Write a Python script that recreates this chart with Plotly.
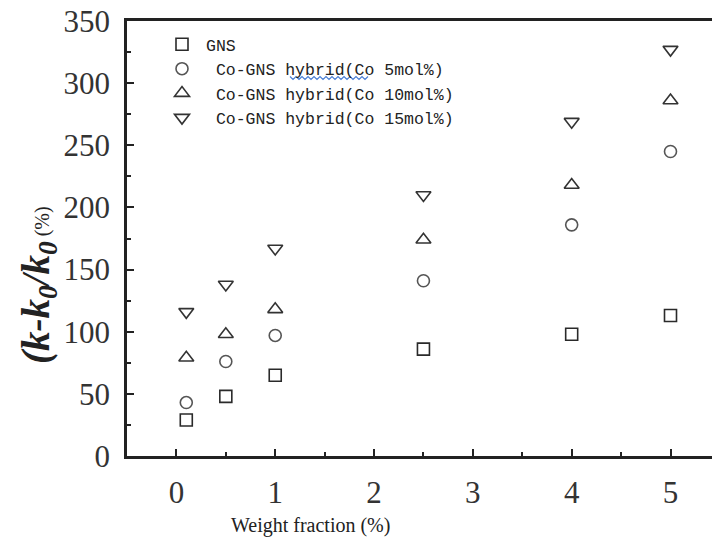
import plotly.graph_objects as go

weight = [0.1, 0.5, 1, 2.5, 4, 5]
gns = [29, 48, 65, 86, 98, 113]
co5 = [43, 76, 97, 141, 186, 245]
co10 = [79, 98, 118, 174, 218, 286]
co15 = [116, 138, 167, 210, 269, 327]

names = ["GNS", "\u00a0Co-GNS hybrid(Co 5mol%)", "\u00a0Co-GNS hybrid(Co 10mol%)", "\u00a0Co-GNS hybrid(Co 15mol%)"]
series = [gns, co5, co10, co15]
symbols = ["square-open", "circle-open", "triangle-up-open", "triangle-down-open"]
sizes = [12, 12, 13, 13]
colors = ["#2a2a2a", "#555555", "#333333", "#333333"]

fig = go.Figure()
for n, s, sym, sz, c in zip(names, series, symbols, sizes, colors):
    fig.add_trace(go.Scatter(
        x=weight, y=s, mode="markers", name=n,
        marker=dict(symbol=sym, size=sz, color=c, line=dict(width=1.6, color=c)),
    ))

L, T, W, H = 127, 21, 585, 435

def px(x):
    return (x - L) / W

def py(y):
    return (T + H - y) / H

fig.update_layout(
    width=712, height=548,
    margin=dict(l=L, r=0, t=T, b=548 - T - H),
    plot_bgcolor="white", paper_bgcolor="white",
    showlegend=True,
    legend=dict(x=px(158), y=py(27), xanchor="left", yanchor="top",
                font=dict(family="Liberation Mono", size=16.5, color="#222"),
                bgcolor="rgba(0,0,0,0)", tracegroupgap=0, itemwidth=38),
    xaxis=dict(range=[-0.5, 5.42], tickmode="array", tickvals=[0, 1, 2, 3, 4, 5],
               ticks="inside", ticklen=7, tickwidth=2, tickcolor="#222",
               minor=dict(tickvals=[0.5, 1.5, 2.5, 3.5, 4.5], ticks="inside", ticklen=4, tickwidth=2, tickcolor="#222"),
               showline=True, linewidth=2.5, linecolor="#222", mirror=True,
               showgrid=False, zeroline=False,
               tickfont=dict(family="Liberation Serif", size=31, color="#333"),
               ticklabelstandoff=7),
    yaxis=dict(range=[0, 350], tickmode="array", tickvals=[0, 50, 100, 150, 200, 250, 300, 350],
               ticks="inside", ticklen=7, tickwidth=2, tickcolor="#222",
               minor=dict(tickvals=[25, 75, 125, 175, 225, 275, 325], ticks="inside", ticklen=4, tickwidth=2, tickcolor="#222"),
               showline=True, linewidth=2.5, linecolor="#222", mirror=False,
               showgrid=False, zeroline=False,
               tickfont=dict(family="Liberation Serif", size=31, color="#333"),
               ticklabelstandoff=8),
)

fig.add_annotation(text="Weight fraction (%)", xref="paper", yref="paper",
                   x=px(310), y=py(525), xanchor="center", yanchor="middle",
                   showarrow=False, font=dict(family="Liberation Serif", size=20, color="#222"))
fig.add_annotation(text="<i><b>(k-k<sub>0</sub>/k<sub>0</sub></b></i><span style='font-size:20px'> (%)</span>",
                   xref="paper", yref="paper",
                   x=px(38), y=py(285), xanchor="center", yanchor="middle",
                   textangle=-90, showarrow=False,
                   font=dict(family="Liberation Serif", size=39, color="#222"))

# spell-check style wavy underline under "hybrid"
x0, x1, yb = 290, 370, 78
pts = []
i = 0
xx = x0
while xx <= x1:
    pts.append((px(xx), py(yb + (1.5 if i % 2 else -1.5))))
    xx += 3
    i += 1
path = "M " + " L ".join(f"{a},{b}" for a, b in pts)
fig.add_shape(type="path", path=path, xref="paper", yref="paper",
              line=dict(color="#4a7fd6", width=1.2))

fig.write_html("out.html")
